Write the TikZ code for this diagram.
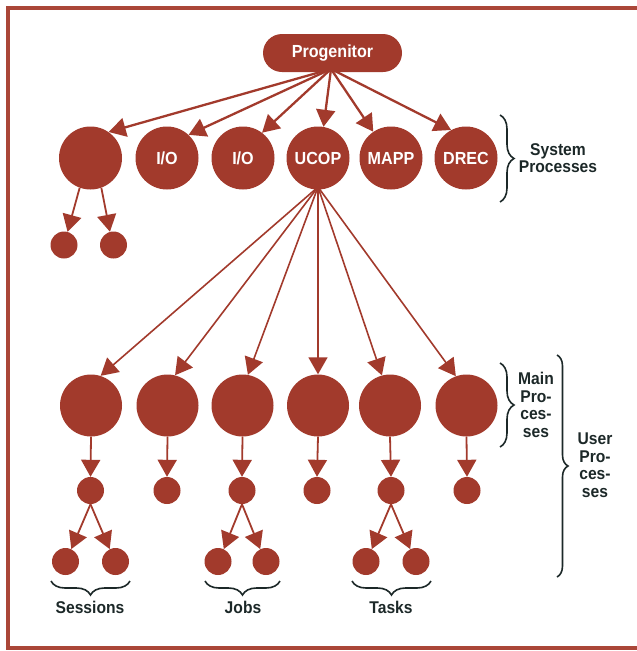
\documentclass[tikz,border=0pt]{standalone}
\usepackage{fontspec}
\setmainfont{Liberation Sans}[FakeStretch=0.92]
\usetikzlibrary{arrows.meta,decorations.pathreplacing}
\definecolor{procred}{RGB}{162,58,44}
\definecolor{framered}{RGB}{170,70,56}
\definecolor{inkdark}{RGB}{28,40,40}
\newcommand\lblfont{\bfseries\fontsize{17.5}{17.5}\selectfont}
\newcommand\sidefont{\bfseries\fontsize{17}{17.5}\selectfont}
\tikzset{
  bigproc/.style={circle, fill=procred, inner sep=0pt, minimum size=63pt, text=white, font=\lblfont},
  smallproc/.style={circle, fill=procred, inner sep=0pt, minimum size=27pt},
  rootbox/.style={rounded corners=19pt, fill=procred, minimum width=139pt, minimum height=38pt, text=white, font=\lblfont},
  sidelabel/.style={align=center, text=inkdark, font=\sidefont, inner sep=0pt},
  link/.style={draw=procred, line width=1.8pt, -{Triangle[length=17pt,width=19pt]}},
  toplink/.style={link, line width=2.3pt},
  bracev/.style={draw=inkdark, line width=1.6pt, decorate, decoration={brace, amplitude=#1}},
  framestroke/.style={draw=framered, line width=4pt}
}
\begin{document}
\begin{tikzpicture}[x=1pt,y=-1pt]
\useasboundingbox (0,0) rectangle (637,651);
% frame
\draw[framestroke] (637,7.5) -- (8,7.5) -- (8,648) -- (637,648);

% progenitor
\node[rootbox] (pg) at (332.5,53) {Progenitor};
\coordinate (pgo) at (331,69);

% system processes
\node[bigproc] (s1) at (90.5,158) {};
\node[bigproc] (s2) at (167,158) {I/O};
\node[bigproc] (s3) at (243,158) {I/O};
\node[bigproc] (s4) at (318,158) {UCOP};
\node[bigproc] (s5) at (391,158) {MAPP};
\node[bigproc] (s6) at (466,158) {DREC};
\node[smallproc] (s1a) at (64,245) {};
\node[smallproc] (s1b) at (113.5,245) {};

\draw[toplink] (pgo) -- (s1.55);
\draw[toplink] (pgo) -- (s2.47);
\draw[toplink] (pgo) -- (s3.53);
\draw[toplink] (pgo) -- (s4.80);
\draw[toplink] (pgo) -- (s5.124);
\draw[toplink] (pgo) -- (s6.118);
\draw[link] (s1.250) -- (s1a.75);
\draw[link] (s1.290) -- (s1b.105);

% main processes
\node[bigproc,minimum size=62pt] (m1) at (91,405.5) {};
\node[bigproc,minimum size=62pt] (m2) at (167.5,405.5) {};
\node[bigproc,minimum size=62pt] (m3) at (242.5,405.5) {};
\node[bigproc,minimum size=62pt] (m4) at (318,405.5) {};
\node[bigproc,minimum size=62pt] (m5) at (390,405.5) {};
\node[bigproc,minimum size=62pt] (m6) at (466.5,405.5) {};
\coordinate (uo) at (318,187);
\draw[link,line width=1.6pt] (uo) -- (m1.72);
\draw[link,line width=1.6pt] (uo) -- (m2.76);
\draw[link,line width=1.6pt] (uo) -- (m3.80);
\draw[link,line width=1.6pt] (uo) -- (m4.north);
\draw[link,line width=1.6pt] (uo) -- (m5.105);
\draw[link,line width=1.6pt] (uo) -- (m6.110);

% second level
\node[smallproc] (n1) at (90.5,490.5) {};
\node[smallproc] (n2) at (167,490.5) {};
\node[smallproc] (n3) at (242,490.5) {};
\node[smallproc] (n4) at (317,490.5) {};
\node[smallproc] (n5) at (391,490.5) {};
\node[smallproc] (n6) at (467,490.5) {};
\foreach \i in {1,...,6} {\draw[link] (m\i.south) -- (n\i.north);}

% leaves
\node[smallproc] (l1a) at (65.5,561.5) {};
\node[smallproc] (l1b) at (115.5,561.5) {};
\node[smallproc] (l3a) at (218,561.5) {};
\node[smallproc] (l3b) at (266,561.5) {};
\node[smallproc] (l5a) at (366,561.5) {};
\node[smallproc] (l5b) at (416,561.5) {};
\draw[link] (n1.south) -- (l1a.65);
\draw[link] (n1.south) -- (l1b.115);
\draw[link] (n3.south) -- (l3a.65);
\draw[link] (n3.south) -- (l3b.115);
\draw[link] (n5.south) -- (l5a.65);
\draw[link] (n5.south) -- (l5b.115);

% braces and labels
\coordinate (bsA) at (500,115);
\coordinate (bsB) at (500,202);
\draw[bracev=14pt] (bsA) -- (bsB);
\node[sidelabel] (syslbl) at (558,158) {System\\Processes};

\coordinate (bmA) at (500,363);
\coordinate (bmB) at (500,447);
\draw[bracev=14pt] (bmA) -- (bmB);
\node[sidelabel] (mainlbl) at (536,405) {Main\\Pro-\\ces-\\ses};

\coordinate (buA) at (557,355);
\coordinate (buB) at (557,577);
\draw[bracev=11pt] (buA) -- (buB);
\node[sidelabel] (userlbl) at (595,465) {User\\Pro-\\ces-\\ses};

\coordinate (bxA) at (130,581);
\coordinate (bxB) at (51,581);
\draw[bracev=14pt] (bxA) -- (bxB);
\node[sidelabel] (sesslbl) at (90,607) {Sessions};

\coordinate (byA) at (280,581);
\coordinate (byB) at (205,581);
\draw[bracev=14pt] (byA) -- (byB);
\node[sidelabel] (jobslbl) at (243,607) {Jobs};

\coordinate (bzA) at (431,581);
\coordinate (bzB) at (352,581);
\draw[bracev=14pt] (bzA) -- (bzB);
\node[sidelabel] (tasklbl) at (391,607) {Tasks};
\end{tikzpicture}
\end{document}
